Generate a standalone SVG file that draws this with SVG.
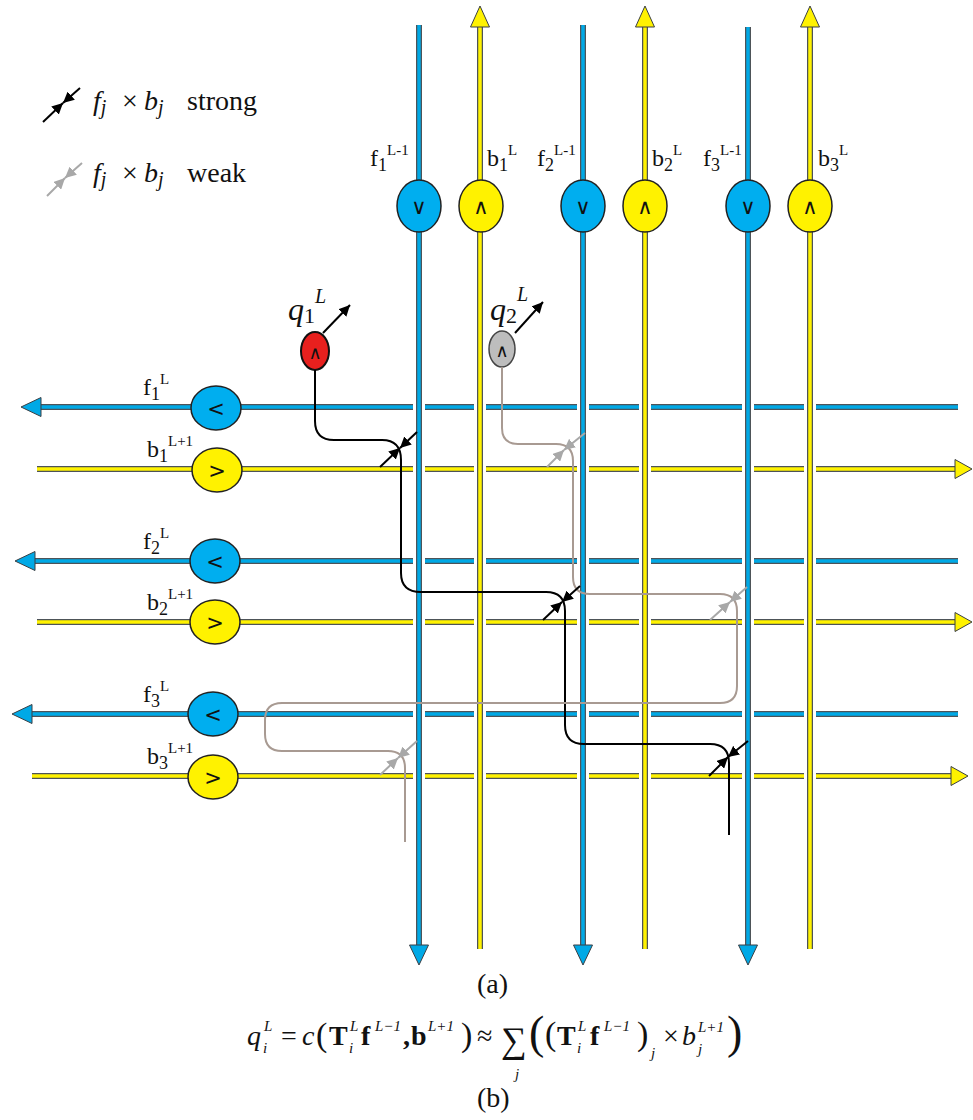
<svg xmlns="http://www.w3.org/2000/svg" width="973" height="1120" viewBox="0 0 973 1120">
<style>
.o{fill:none;stroke:#4d5358;stroke-width:6}
.b{fill:none;stroke:#00a9e6;stroke-width:3.5}
.y{fill:none;stroke:#fff200;stroke-width:3.5}
.halo{fill:none;stroke:#fff;stroke-width:12}
.ab{fill:#00a9e6;stroke:#3a3f44;stroke-width:1}
.ay{fill:#fff200;stroke:#3a3f44;stroke-width:1}
.nb{fill:#00aeef;stroke:#222;stroke-width:1.5}
.ny{fill:#fff200;stroke:#222;stroke-width:1.5}
.sym{font-family:"DejaVu Sans",sans-serif;font-size:21px;fill:#111;text-anchor:middle}
.lbl{font-family:"Liberation Serif",serif;font-size:24px;fill:#111}
.sub{font-size:18px}
.sup{font-size:15px}
.tx{font-family:"Liberation Serif",serif;font-size:28px;fill:#111}
.it{font-style:italic}
.bd{font-weight:bold}
.sm{font-size:15px}
.pk{fill:none;stroke:#000;stroke-width:2}
.pg{fill:none;stroke:#a89a92;stroke-width:2}
.mk{stroke:#000;stroke-width:2;marker-end:url(#ahk)}
.mg{stroke:#a8a8a8;stroke-width:2;marker-end:url(#ahg)}
</style>
<defs>
<marker id="ahk" viewBox="0 0 10 10" refX="10" refY="5" markerWidth="11" markerHeight="11" markerUnits="userSpaceOnUse" orient="auto"><path d="M0,0 L10,5 L0,10 z" fill="#000"/></marker>
<marker id="ahg" viewBox="0 0 10 10" refX="10" refY="5" markerWidth="11" markerHeight="11" markerUnits="userSpaceOnUse" orient="auto"><path d="M0,0 L10,5 L0,10 z" fill="#a8a8a8"/></marker>
</defs>
<rect width="973" height="1120" fill="#fff"/>

<g id="hlines">
<path class="o" d="M38,407 H958"/><path class="b" d="M38,407 H958"/><polygon class="ab" points="21,407 41,397.5 41,416.5"/>
<path class="o" d="M37,469 H956"/><path class="y" d="M37,469 H956"/><polygon class="ay" points="972,469 955,459.5 955,478.5"/>
<path class="o" d="M33,561 H958"/><path class="b" d="M33,561 H958"/><polygon class="ab" points="15,561 35,551.5 35,570.5"/>
<path class="o" d="M37,622 H956"/><path class="y" d="M37,622 H956"/><polygon class="ay" points="972,622 955,612.5 955,631.5"/>
<path class="o" d="M30,714 H958"/><path class="b" d="M30,714 H958"/><polygon class="ab" points="12,714 32,704.5 32,723.5"/>
<path class="o" d="M32,776 H952"/><path class="y" d="M32,776 H952"/><polygon class="ay" points="968,776 951,766.5 951,785.5"/>
</g>

<g id="vlines">
<path class="halo" d="M419,320 V890 M480,320 V890 M583,320 V890 M645,320 V890 M748,320 V890 M810,320 V890"/>
<path class="o" d="M419,25 V946"/><path class="b" d="M419,25 V946"/><polygon class="ab" points="419,965 409.5,945 428.5,945"/>
<path class="o" d="M480,26 V949"/><path class="y" d="M480,26 V949"/><polygon class="ay" points="480,6 470.5,27 489.5,27"/>
<path class="o" d="M583,25 V946"/><path class="b" d="M583,25 V946"/><polygon class="ab" points="583,965 573.5,945 592.5,945"/>
<path class="o" d="M645,26 V949"/><path class="y" d="M645,26 V949"/><polygon class="ay" points="645,6 635.5,27 654.5,27"/>
<path class="o" d="M748,27 V946"/><path class="b" d="M748,27 V946"/><polygon class="ab" points="748,965 738.5,945 757.5,945"/>
<path class="o" d="M810,26 V949"/><path class="y" d="M810,26 V949"/><polygon class="ay" points="810,6 800.5,27 819.5,27"/>
</g>

<g id="node-f1-Lm1"><ellipse class="nb" cx="419" cy="206" rx="22" ry="26"/><text class="sym" x="419" y="214">∨</text></g>
<g id="node-b1-L"><ellipse class="ny" cx="481" cy="206" rx="22" ry="26"/><text class="sym" x="481" y="214">∧</text></g>
<g id="node-f2-Lm1"><ellipse class="nb" cx="583" cy="206" rx="22" ry="26"/><text class="sym" x="583" y="214">∨</text></g>
<g id="node-b2-L"><ellipse class="ny" cx="645" cy="206" rx="22" ry="26"/><text class="sym" x="645" y="214">∧</text></g>
<g id="node-f3-Lm1"><ellipse class="nb" cx="748" cy="206" rx="22" ry="26"/><text class="sym" x="748" y="214">∨</text></g>
<g id="node-b3-L"><ellipse class="ny" cx="810" cy="206" rx="22" ry="26"/><text class="sym" x="810" y="214">∧</text></g>

<g id="node-f1-L"><ellipse class="nb" cx="216" cy="408" rx="25" ry="22"/><text class="sym" x="216" y="416">&lt;</text></g>
<g id="node-b1-Lp1"><ellipse class="ny" cx="217" cy="470" rx="25" ry="22"/><text class="sym" x="217" y="478">&gt;</text></g>
<g id="node-f2-L"><ellipse class="nb" cx="215" cy="561" rx="25" ry="22"/><text class="sym" x="215" y="569">&lt;</text></g>
<g id="node-b2-Lp1"><ellipse class="ny" cx="215" cy="622" rx="25" ry="22"/><text class="sym" x="215" y="630">&gt;</text></g>
<g id="node-f3-L"><ellipse class="nb" cx="213" cy="714" rx="25" ry="22"/><text class="sym" x="213" y="722">&lt;</text></g>
<g id="node-b3-Lp1"><ellipse class="ny" cx="213" cy="777" rx="25" ry="22"/><text class="sym" x="213" y="785">&gt;</text></g>

<g id="node-q1"><ellipse cx="315" cy="351" rx="14" ry="19" fill="#e8201e" stroke="#111" stroke-width="2"/><text class="sym" x="315" y="359" style="font-size:18px">∧</text></g>
<g id="node-q2"><ellipse cx="502" cy="349" rx="13" ry="18" fill="#bdbdbd" stroke="#444" stroke-width="1.5"/><text class="sym" x="502" y="357" style="font-size:18px">∧</text></g>

<g id="connectors">
<path class="pk" d="M315,370 V421 Q315,440 334,440 H382 Q401,440 401,460 V573 Q401,592 421,592 H546 Q565,592 565,611 V725 Q565,744 584,744 H710 Q729,744 729,763 V835"/>
<path class="pg" d="M502,367 V428 Q502,444 518,444 H556 Q573,444 573,461 V577 Q573,594 590,594 H720 Q737,594 737,611 V686 Q737,703 720,703 H282 Q265,703 265,720 V734 Q265,751 282,751 H388 Q405,751 405,768 V842"/>
<line class="mk" x1="323" y1="333" x2="350" y2="305"/>
<line class="mk" x1="515" y1="333" x2="543" y2="302"/>
<line class="mk" x1="417" y1="432" x2="400" y2="448"/><line class="mk" x1="380" y1="467" x2="400" y2="448"/>
<line class="mg" x1="585" y1="433" x2="564" y2="450"/><line class="mg" x1="547" y1="467" x2="564" y2="450"/>
<line class="mk" x1="580" y1="586" x2="562" y2="602"/><line class="mk" x1="543" y1="620" x2="562" y2="602"/>
<line class="mg" x1="747" y1="587" x2="730" y2="602"/><line class="mg" x1="710" y1="620" x2="730" y2="602"/>
<line class="mg" x1="417" y1="741" x2="398" y2="758"/><line class="mg" x1="380" y1="775" x2="398" y2="758"/>
<line class="mk" x1="748" y1="741" x2="728" y2="757"/><line class="mk" x1="709" y1="776" x2="728" y2="757"/>
</g>

<g id="legend">
<line class="mk" x1="80" y1="88" x2="63" y2="103"/><line class="mk" x1="43" y1="122" x2="63" y2="103"/>
<text class="tx" x="93" y="110"><tspan class="it">f</tspan><tspan class="it" style="font-size:20px" dy="4">j</tspan><tspan x="122" dy="-4">×</tspan><tspan class="it" x="144">b</tspan><tspan class="it" style="font-size:20px" dy="4">j</tspan><tspan x="187" dy="-4">strong</tspan></text>
<line class="mg" x1="82" y1="163" x2="65" y2="178"/><line class="mg" x1="47" y1="196" x2="65" y2="178"/>
<text class="tx" x="93" y="182"><tspan class="it">f</tspan><tspan class="it" style="font-size:20px" dy="4">j</tspan><tspan x="122" dy="-4">×</tspan><tspan class="it" x="144">b</tspan><tspan class="it" style="font-size:20px" dy="4">j</tspan><tspan x="187" dy="-4">weak</tspan></text>
</g>

<g id="labels">
<text class="lbl" x="370" y="166">f<tspan class="sub" dy="5">1</tspan><tspan class="sup" dy="-16">L-1</tspan></text>
<text class="lbl" x="487" y="166">b<tspan class="sub" dy="5">1</tspan><tspan class="sup" dy="-16">L</tspan></text>
<text class="lbl" x="537" y="166">f<tspan class="sub" dy="5">2</tspan><tspan class="sup" dy="-16">L-1</tspan></text>
<text class="lbl" x="652" y="166">b<tspan class="sub" dy="5">2</tspan><tspan class="sup" dy="-16">L</tspan></text>
<text class="lbl" x="703" y="166">f<tspan class="sub" dy="5">3</tspan><tspan class="sup" dy="-16">L-1</tspan></text>
<text class="lbl" x="818" y="166">b<tspan class="sub" dy="5">3</tspan><tspan class="sup" dy="-16">L</tspan></text>

<text class="lbl" x="143" y="395">f<tspan class="sub" dy="5">1</tspan><tspan class="sup" dy="-16">L</tspan></text>
<text class="lbl" x="147" y="457">b<tspan class="sub" dy="5">1</tspan><tspan class="sup" dy="-16">L+1</tspan></text>
<text class="lbl" x="143" y="549">f<tspan class="sub" dy="5">2</tspan><tspan class="sup" dy="-16">L</tspan></text>
<text class="lbl" x="147" y="610">b<tspan class="sub" dy="5">2</tspan><tspan class="sup" dy="-16">L+1</tspan></text>
<text class="lbl" x="143" y="702">f<tspan class="sub" dy="5">3</tspan><tspan class="sup" dy="-16">L</tspan></text>
<text class="lbl" x="147" y="764">b<tspan class="sub" dy="5">3</tspan><tspan class="sup" dy="-16">L+1</tspan></text>

<text class="tx" x="288" y="320" style="font-size:32px"><tspan class="it">q</tspan><tspan style="font-size:22px" dy="3">1</tspan><tspan class="it" style="font-size:20px" dy="-20">L</tspan></text>
<text class="tx" x="490" y="320" style="font-size:32px"><tspan class="it">q</tspan><tspan style="font-size:22px" dy="3">2</tspan><tspan class="it" style="font-size:20px" dy="-22">L</tspan></text>
</g>

<g id="caption">
<text class="tx" x="477" y="993">(a)</text>
<text class="tx" x="477" y="1107">(b)</text>
<text class="tx it" x="247" y="1045">q</text>
<text class="tx it sm" x="264" y="1031">L</text>
<text class="tx it sm" x="263" y="1053">i</text>
<text class="tx" x="281" y="1045">=</text>
<text class="tx it" x="302" y="1045">c</text>
<text class="tx" x="316" y="1046" style="font-size:34px">(</text>
<text class="tx bd" x="329" y="1045">T</text>
<text class="tx it sm" x="350" y="1031">L</text>
<text class="tx it sm" x="349" y="1053">i</text>
<text class="tx bd" x="361" y="1045">f</text>
<text class="tx it sm" x="375" y="1031">L−1</text>
<text class="tx bd" x="403" y="1045">,</text>
<text class="tx bd" x="411" y="1045">b</text>
<text class="tx it sm" x="428" y="1031">L+1</text>
<text class="tx" x="461" y="1046" style="font-size:34px">)</text>
<text class="tx" x="477" y="1045">≈</text>
<text class="tx" x="501" y="1052" style="font-size:36px">∑</text>
<text class="tx it sm" x="515" y="1079">j</text>
<text class="tx" x="529" y="1048" style="font-size:46px">(</text>
<text class="tx" x="545" y="1045" style="font-size:34px">(</text>
<text class="tx bd" x="557" y="1045">T</text>
<text class="tx it sm" x="578" y="1031">L</text>
<text class="tx it sm" x="577" y="1053">i</text>
<text class="tx bd" x="590" y="1045">f</text>
<text class="tx it sm" x="604" y="1031">L−1</text>
<text class="tx" x="637" y="1045" style="font-size:34px">)</text>
<text class="tx it sm" x="651" y="1058">j</text>
<text class="tx" x="663" y="1045">×</text>
<text class="tx it" x="682" y="1045">b</text>
<text class="tx it sm" x="698" y="1032">L+1</text>
<text class="tx it sm" x="698" y="1054">j</text>
<text class="tx" x="727" y="1048" style="font-size:46px">)</text>
</g>
</svg>
